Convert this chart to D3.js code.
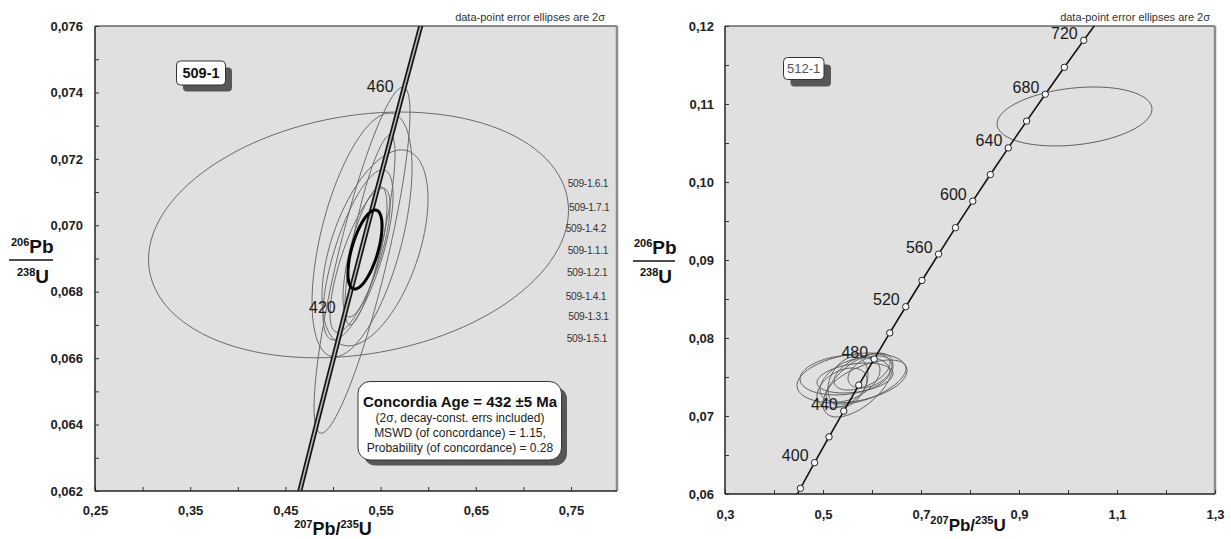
<!DOCTYPE html>
<html><head><meta charset="utf-8">
<script src="https://cdn.jsdelivr.net/npm/d3@7"></script>
<style>
body{margin:0;background:#fff;}
text{font-family:"Liberation Sans",Arial,sans-serif;}
</style></head>
<body><svg id="c" width="1231" height="539"></svg>
<script>
// ---------- DATA ----------
const concAges = [360,380,400,420,440,460,480,500,520,540,560,580,600,620,640,660,680,700,720,740,760];
const concX = [0.425533,0.453890,0.482812,0.512309,0.542392,0.573073,0.604365,0.636279,0.668828,0.702026,0.735882,0.770414,0.805630,0.841548,0.878182,0.915543,0.953647,0.992510,1.032144,1.072570,1.113797];
const concY = [0.057434,0.060720,0.064016,0.067322,0.070638,0.073965,0.077302,0.080650,0.084008,0.087376,0.090755,0.094144,0.097544,0.100954,0.104375,0.107807,0.111249,0.114702,0.118166,0.121641,0.125126];
const leftAgeLabels = [420,460];
const rightMarkerAges = [380,400,420,440,460,480,500,520,540,560,580,600,620,640,660,680,700,720];
const rightAgeLabels = [400,440,480,520,560,600,640,680,720];

// ellipses: [cx (207/235), cy (206/238), 2σ x, 2σ y, rho]
const leftEllipses = [
  [0.5268,0.06971,0.2206,0.00370,0.20],
  [0.5305,0.06895,0.0504,0.00521,0.85],
  [0.5305,0.06971,0.0525,0.00367,0.55],
  [0.5441,0.06932,0.0557,0.00295,0.50],
  [0.5263,0.06911,0.0368,0.00256,0.70],
  [0.5284,0.06895,0.0315,0.00217,0.75],
  [0.5336,0.06920,0.0231,0.00196,0.70],
  [0.5389,0.06986,0.0263,0.00286,0.80]
];
const concordiaEllipse = [0.5336,0.06927,0.0179,0.00119,0.60];
const leftSampleNames = ["509-1.6.1","509-1.7.1","509-1.4.2","509-1.1.1","509-1.2.1","509-1.4.1","509-1.3.1","509-1.5.1"];
const rightEllipses = [
  [1.0133,0.1084,0.158,0.00378,0.25],
  [0.5592,0.07487,0.1122,0.00320,0.30],
  [0.5714,0.07397,0.0714,0.00410,0.60],
  [0.5449,0.07526,0.0918,0.00256,0.20],
  [0.5551,0.07462,0.0612,0.00282,0.45],
  [0.5796,0.07564,0.0571,0.00231,0.50],
  [0.5388,0.07359,0.0510,0.00256,0.40],
  [0.5653,0.07487,0.0776,0.00192,0.30],
  [0.5878,0.07436,0.0816,0.00282,0.60],
  [0.5510,0.07436,0.0408,0.00320,0.30],
  [0.5959,0.07564,0.0449,0.00205,0.40]
];
const leftXTicks = [0.25,0.30,0.35,0.40,0.45,0.50,0.55,0.60,0.65,0.70,0.75];
const leftXLabels = [0.25,0.35,0.45,0.55,0.65,0.75];
const leftYTicks = [0.062,0.063,0.064,0.065,0.066,0.067,0.068,0.069,0.070,0.071,0.072,0.073,0.074,0.075,0.076];
const leftYLabels = [0.062,0.064,0.066,0.068,0.070,0.072,0.074,0.076];
const rightXTicks = [0.3,0.4,0.5,0.6,0.7,0.8,0.9,1.0,1.1,1.2,1.3];
const rightXLabels = [0.3,0.5,0.7,0.9,1.1,1.3];
const rightYTicks = [0.060,0.065,0.070,0.075,0.080,0.085,0.090,0.095,0.100,0.105,0.110,0.115,0.120];
const rightYLabels = [0.06,0.07,0.08,0.09,0.10,0.11,0.12];
const ageLines = ["Concordia Age = 432 \u00b15 Ma","(2\u03c3, decay-const. errs included)","MSWD (of concordance) = 1.15,","Probability (of concordance) = 0.28"];

// ---------- DRAW ----------
const svg = d3.select("#c");
const comma = f => v => d3.format(f)(v).replace(".", ",");
const near = (arr, v) => arr.some(a => Math.abs(a - v) < 1e-9);

function ellipsePts(e, xs, ys) {
  const [cx, cy, sx, sy, r] = e, k = Math.sqrt(1 - r*r);
  return d3.range(0, 361, 3).map(a => {
    const t = a * Math.PI / 180;
    return [xs(cx + sx*Math.cos(t)), ys(cy + sy*(r*Math.cos(t) + k*Math.sin(t)))];
  });
}

function panel(o) {
  const g = svg.append("g");
  const [x0, x1] = o.frame[0], [y0, y1] = o.frame[1];
  g.append("rect").attr("x", x0).attr("y", y0).attr("width", x1-x0).attr("height", y1-y0).attr("fill", "#e0e0e0");
  const cid = "clip" + o.id;
  svg.append("clipPath").attr("id", cid).append("rect").attr("x", x0).attr("y", y0).attr("width", x1-x0).attr("height", y1-y0);
  const pg = g.append("g").attr("clip-path", `url(#${cid})`);
  o.draw(pg);
  g.append("line").attr("x1", x0).attr("x2", x1).attr("y1", y0).attr("y2", y0).attr("stroke", "#222").attr("stroke-width", 1);
  g.append("line").attr("x1", x1).attr("x2", x1).attr("y1", y0).attr("y2", y1).attr("stroke", "#8a8a8a").attr("stroke-width", 2.5);
  const ax = g.append("g").attr("transform", `translate(0,${y1})`)
    .call(d3.axisBottom(o.xs).tickValues(o.xt).tickSize(-4).tickPadding(o.xpad)
      .tickFormat(v => near(o.xl, v) ? o.xf(v) : ""));
  const ay = g.append("g").attr("transform", `translate(${x0},0)`)
    .call(d3.axisLeft(o.ys).tickValues(o.yt).tickSize(-4).tickPadding(o.ypad)
      .tickFormat(v => near(o.yl, v) ? o.yf(v) : ""));
  [ax, ay].forEach(a => {
    a.select(".domain").attr("stroke", "#222").attr("stroke-width", 1.5);
    a.selectAll(".tick line").attr("stroke", "#333");
    a.selectAll("text").attr("font-size", 13).attr("font-weight", "bold").attr("fill", "#222")
      .attr("font-family", "Liberation Sans, Arial, sans-serif");
  });
  ax.select(".domain").attr("d", `M${x0},0H${x1}`);
  ay.select(".domain").attr("d", `M0,${y0}V${y1}`);
  return g;
}

function boxShadow(x, y, w, h, r, off) {
  svg.append("rect").attr("x", x+off).attr("y", y+off).attr("width", w).attr("height", h).attr("rx", r).attr("fill", "#575757");
  svg.append("rect").attr("x", x).attr("y", y).attr("width", w).attr("height", h).attr("rx", r).attr("fill", "#fff").attr("stroke", "#333").attr("stroke-width", 1);
}

function ratioLabel(xl, xr, yLine, num, den) {
  const g = svg.append("g");
  const t1 = g.append("text").attr("x", num.x).attr("y", num.y).attr("fill", "#111");
  t1.append("tspan").attr("font-size", 11).attr("font-weight", "bold").attr("dy", -7).text("206");
  t1.append("tspan").attr("font-size", 19).attr("font-weight", "bold").attr("dy", 7).text("Pb");
  g.append("line").attr("x1", xl).attr("x2", xr).attr("y1", yLine).attr("y2", yLine).attr("stroke", "#111").attr("stroke-width", 1.6);
  const t2 = g.append("text").attr("x", den.x).attr("y", den.y).attr("fill", "#111");
  t2.append("tspan").attr("font-size", 11).attr("font-weight", "bold").attr("dy", -7).text("238");
  t2.append("tspan").attr("font-size", 19).attr("font-weight", "bold").attr("dy", 7).text("U");
}
function xLabel(cx, y, fs) {
  const t = svg.append("text").attr("x", cx).attr("y", y).attr("text-anchor", "middle").attr("fill", "#111");
  t.append("tspan").attr("font-size", 11).attr("font-weight", "bold").attr("dy", -7).text("207");
  t.append("tspan").attr("font-size", fs).attr("font-weight", "bold").attr("dy", 7).text("Pb/");
  t.append("tspan").attr("font-size", 11).attr("font-weight", "bold").attr("dy", -7).text("235");
  t.append("tspan").attr("font-size", fs).attr("font-weight", "bold").attr("dy", 7).text("U");
}

// Left panel
const xL = d3.scaleLinear().domain([0.25, 0.75]).range([95, 571]);
const yL = d3.scaleLinear().domain([0.062, 0.076]).range([491, 26]);
const concPts = (xs, ys) => concAges.map((a, i) => [xs(concX[i]), ys(concY[i])]);
const lineClosed = d3.line().curve(d3.curveLinearClosed);
const lineCurve = d3.line().curve(d3.curveCatmullRom);

panel({
  id: "L", frame: [[95, 617], [26, 491]], xs: xL, ys: yL,
  xt: leftXTicks, xl: leftXLabels, xf: comma(".2f"), xpad: 15,
  yt: leftYTicks, yl: leftYLabels, yf: comma(".3f"), ypad: 12,
  draw: g => {
    leftEllipses.forEach(e => g.append("path").attr("d", lineClosed(ellipsePts(e, xL, yL)))
      .attr("fill", "none").attr("stroke", "#6a6a6a").attr("stroke-width", 1));
    const cp = lineCurve(concPts(xL, yL));
    g.append("path").attr("d", cp).attr("fill", "none").attr("stroke", "#151515").attr("stroke-width", 5);
    g.append("path").attr("d", cp).attr("fill", "none").attr("stroke", "#b8b8b8").attr("stroke-width", 1.6);
    g.append("path").attr("d", lineClosed(ellipsePts(concordiaEllipse, xL, yL)))
      .attr("fill", "none").attr("stroke", "#000").attr("stroke-width", 3);
    leftAgeLabels.forEach(a => {
      const i = concAges.indexOf(a);
      g.append("text").attr("x", xL(concX[i]) - 9).attr("y", yL(concY[i]) - 1.5)
        .attr("text-anchor", "end").attr("font-size", 16).attr("fill", "#1a1a1a").text(a);
    });
  }
});

// Right panel
const xR = d3.scaleLinear().domain([0.3, 1.3]).range([725, 1215]);
const yR = d3.scaleLinear().domain([0.06, 0.12]).range([494, 26]);
panel({
  id: "R", frame: [[725, 1215], [26, 494]], xs: xR, ys: yR,
  xt: rightXTicks, xl: rightXLabels, xf: comma(".1f"), xpad: 16,
  yt: rightYTicks, yl: rightYLabels, yf: comma(".2f"), ypad: 11,
  draw: g => {
    rightEllipses.forEach(e => g.append("path").attr("d", lineClosed(ellipsePts(e, xR, yR)))
      .attr("fill", "none").attr("stroke", "#5e5e5e").attr("stroke-width", 1));
    g.append("path").attr("d", lineCurve(concPts(xR, yR))).attr("fill", "none").attr("stroke", "#111").attr("stroke-width", 1.6);
    rightMarkerAges.forEach(a => {
      const i = concAges.indexOf(a);
      g.append("circle").attr("cx", xR(concX[i])).attr("cy", yR(concY[i])).attr("r", 3.2)
        .attr("fill", "#fff").attr("stroke", "#222").attr("stroke-width", 1);
    });
    rightAgeLabels.forEach(a => {
      const i = concAges.indexOf(a);
      g.append("text").attr("x", xR(concX[i]) - 6).attr("y", yR(concY[i]) - 1.5)
        .attr("text-anchor", "end").attr("font-size", 16).attr("fill", "#1a1a1a").text(a);
    });
  }
});

// sample name list (left)
const nameX = [567.7,569,565.7,567.7,567,565.7,568.3,566.7];
const nameY = [183,207,228,250,272,296,316,338];
leftSampleNames.forEach((n, i) => svg.append("text").attr("x", nameX[i]).attr("y", nameY[i] + 3.5)
  .attr("font-size", 10.2).attr("fill", "#333").attr("letter-spacing", -0.3).text(n));

// header notes
[605, 1210].forEach(x => svg.append("text").attr("x", x).attr("y", 21).attr("text-anchor", "end")
  .attr("font-size", 11).attr("fill", "#333").text("data-point error ellipses are 2\u03c3"));

// sample boxes
boxShadow(176.5, 61, 49, 24, 4, 6.5);
svg.append("text").attr("x", 201).attr("y", 78).attr("text-anchor", "middle").attr("font-size", 14.5).attr("font-weight", "bold").attr("fill", "#111").text("509-1");
boxShadow(783.5, 57.5, 40.5, 22, 4, 7);
svg.append("text").attr("x", 803.7).attr("y", 73).attr("text-anchor", "middle").attr("font-size", 13).attr("fill", "#555").text("512-1");

// concordia age box
boxShadow(358, 381.5, 203.5, 78.5, 12, 5.5);
svg.append("text").attr("x", 460).attr("y", 407).attr("text-anchor", "middle").attr("font-size", 15).attr("font-weight", "bold").attr("fill", "#111").text(ageLines[0]);
[421.5, 437, 452].forEach((y, i) => svg.append("text").attr("x", 460).attr("y", y).attr("text-anchor", "middle")
  .attr("font-size", 12).attr("fill", "#222").text(ageLines[i + 1]));

// axis titles
ratioLabel(9, 53, 260, {x: 11, y: 253}, {x: 17, y: 283});
ratioLabel(633, 675, 261, {x: 634, y: 254}, {x: 640, y: 283});
xLabel(333, 535, 18);
xLabel(968, 531, 17);
</script></body></html>
